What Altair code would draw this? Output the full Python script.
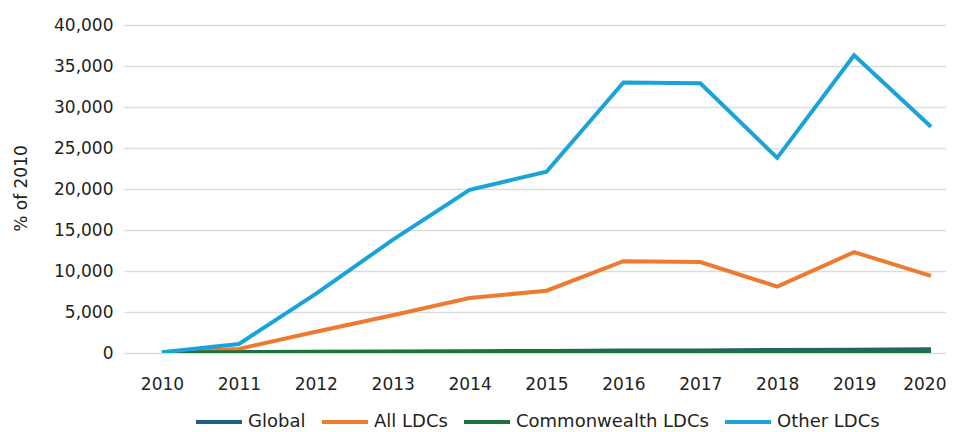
import altair as alt
import pandas as pd

years = [2010, 2011, 2012, 2013, 2014, 2015, 2016, 2017, 2018, 2019, 2020]
series_names = ["Global", "All LDCs", "Commonwealth LDCs", "Other LDCs"]
global_vals = [100, 130, 160, 190, 220, 250, 290, 320, 360, 400, 450]
all_ldcs = [100, 500, 2600, 4600, 6700, 7600, 11200, 11100, 8100, 12300, 9400]
commonwealth_ldcs = [100, 105, 110, 115, 120, 125, 130, 135, 140, 145, 150]
other_ldcs = [100, 1100, 7200, 13800, 19900, 22100, 33000, 32900, 23800, 36300, 27600]
colors = ["#1f5f86", "#ee7a30", "#217140", "#1aa3d9"]

rows = []
for name, vals in zip(series_names, [global_vals, all_ldcs, commonwealth_ldcs, other_ldcs]):
    for y, v in zip(years, vals):
        rows.append({"Year": y, "Value": v, "Series": name, "order": series_names.index(name)})
df = pd.DataFrame(rows)

FONT = "DejaVu Sans"
FS = 17

chart = alt.Chart(df).mark_line(strokeWidth=4, clip=True).encode(
    x=alt.X("Year:Q",
            scale=alt.Scale(domain=[2009.506, 2020.195], nice=False, zero=False),
            axis=alt.Axis(values=years, format="d", title=None, grid=False, ticks=False,
                          domain=False, labelPadding=23, labelFontSize=FS,
                          labelColor="#231f20", labelFont=FONT,
                          labelAlign=alt.expr("datum.value == 2020 ? 'right' : 'center'"),
                          labelOffset=alt.expr("datum.value == 2020 ? 15 : 0"))),
    y=alt.Y("Value:Q",
            scale=alt.Scale(domain=[0, 40000], nice=False),
            axis=alt.Axis(values=list(range(0, 40001, 5000)), format=",.0f", title="% of 2010",
                          ticks=False, domain=False, labelPadding=11, labelFontSize=FS,
                          labelColor="#231f20", labelFont=FONT, gridColor="#dcdcdc",
                          gridWidth=1.5, titleFont=FONT, titleFontSize=FS,
                          titleFontWeight="normal", titleColor="#231f20",
                          titleX=-103, titleY=163, titleAngle=-90, titleBaseline="middle",
                          titleAlign="center")),
    color=alt.Color("Series:N",
                    scale=alt.Scale(domain=series_names, range=colors),
                    sort=series_names,
                    legend=alt.Legend(title=None, orient="none", direction="horizontal",
                                      legendX=70, legendY=372, symbolType="stroke",
                                      symbolSize=2116, symbolStrokeWidth=4,
                                      labelFontSize=18, labelFont=FONT, labelColor="#231f20",
                                      labelOffset=4, columnPadding=8, labelLimit=400)),
    order=alt.Order("order:Q"),
    detail="Series:N",
).properties(
    width=822, height=328,
    autosize=alt.AutoSizeParams(type="none"),
    padding={"left": 116, "top": 17, "right": 0, "bottom": 79},
).configure_view(stroke=None)

chart.save("out.html", embed_options={"renderer": "svg", "actions": False})
